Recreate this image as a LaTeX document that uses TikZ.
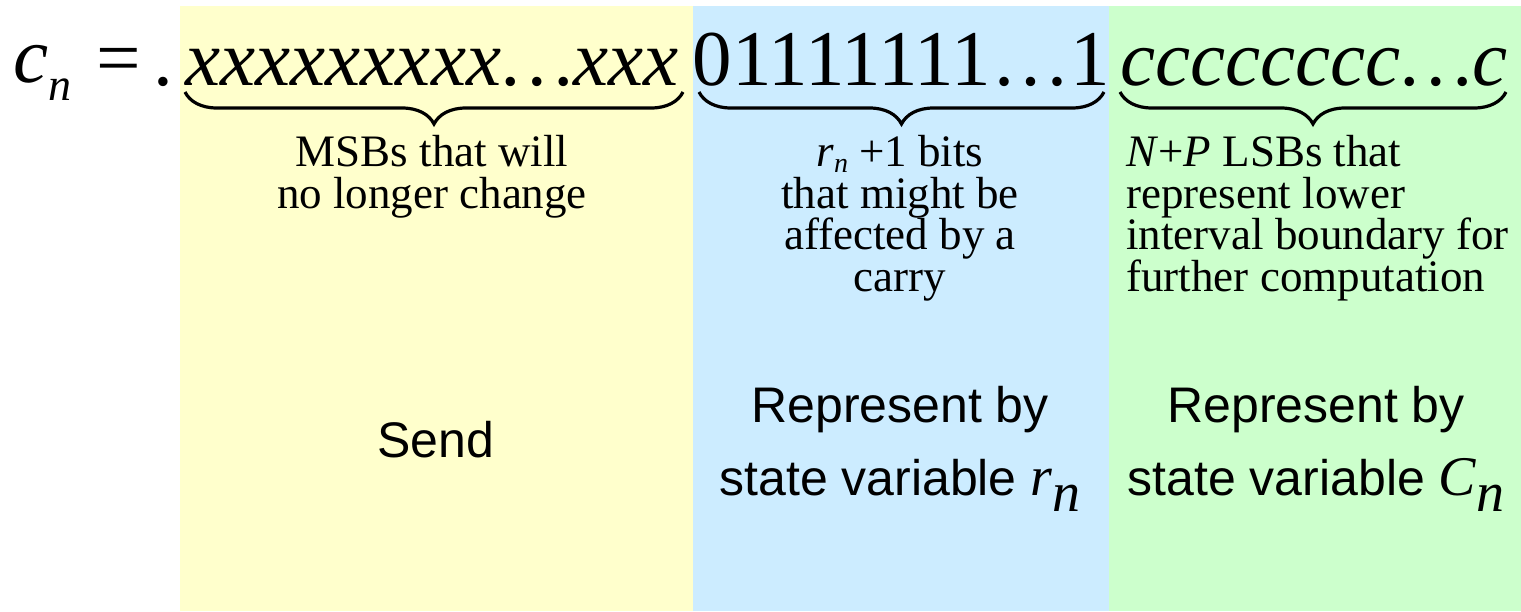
\documentclass[tikz,border=0pt]{standalone}
\usepackage{fontspec}
\setmainfont{Liberation Serif}
\setsansfont{Liberation Sans}
\usetikzlibrary{decorations.pathreplacing}

\definecolor{msbyellow}{HTML}{FFFFCC}
\definecolor{carryblue}{HTML}{CCECFF}
\definecolor{lsbgreen}{HTML}{CCFFCC}

% italic letter with a lowered italic n
\newcommand{\withsub}[3]{{\rmfamily\itshape #1\raisebox{#2}{\fontsize{#3}{#3}\selectfont n}}}
\newcommand{\bigsize}{\fontsize{28}{28}\selectfont}

\begin{document}
\begin{tikzpicture}[x=0.5pt,y=-0.5pt,
  bits/.style={inner sep=0pt,anchor=base,font=\fontsize{39.5}{39.5}\selectfont},
  note/.style={inner sep=0pt,align=center,anchor=base,font=\fontsize{22.5}{20.7}\selectfont},
  state/.style={inner sep=0pt,align=center,anchor=base,font=\sffamily\fontsize{25}{36.5}\selectfont},
  brc/.style={decorate,decoration={brace,mirror,amplitude=16pt},line width=1.6pt}]
  \useasboundingbox (0,0) rectangle (1521,611);
  % the three fields
  \fill[msbyellow] (180,6) rectangle (693,611);
  \fill[carryblue] (693,6) rectangle (1109,611);
  \fill[lsbgreen] (1109,6) rectangle (1521,611);

  % code value
  \node[bits,anchor=base west] (cn) at (13,82) {\withsub{c}{-9pt}{23}};
  \node[bits] (eq) at (119,84) {=};
  \node[bits] (dot) at (163,85) {.};
  \node[bits] (xs) at (432,85) {\textit{xxxxxxxxx\kern1pt\ldots xxx}};
  \node[bits] (ones) at (901,85) {01111111\ldots1};
  \node[bits] (cs) at (1314,85) {\textit{cccccccc\kern1pt\ldots c}};

  % braces
  \coordinate (xl) at (185,92);
  \coordinate (xr) at (683,92);
  \coordinate (ol) at (699,92);
  \coordinate (or) at (1104,92);
  \coordinate (cl) at (1120,92);
  \coordinate (cr) at (1506,92);
  \draw[brc] (xl) -- (xr);
  \draw[brc] (ol) -- (or);
  \draw[brc] (cl) -- (cr);

  % what each field means
  \node[note] (msb) at (432,208) {MSBs that will\\no longer change};
  \node[note] (carry) at (900,291) {\withsub{r}{-3pt}{14} +1 bits\\that might be\\affected by a\\carry};
  \node[note,align=left,anchor=base west] (lsb) at (1126,291)
    {\textit{N}+\textit{P} LSBs that\\represent lower\\interval boundary for\\further computation};

  \node[state] (send) at (436,457) {Send};
  \node[state] (rstate) at (900,495) {Represent by\\state variable {\bigsize\withsub{r}{-8pt}{28}}};
  \node[state] (cstate) at (1316,495) {Represent by\\state variable {\bigsize\withsub{C}{-8pt}{28}}};
\end{tikzpicture}
\end{document}
